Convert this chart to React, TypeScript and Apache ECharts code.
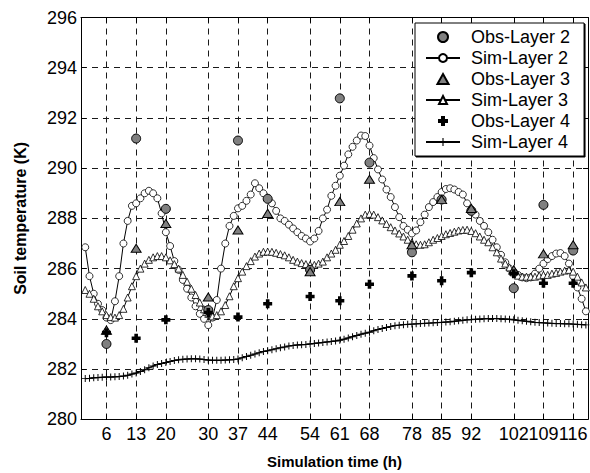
import { useEffect, useRef } from 'react';
import * as echarts from 'echarts';

const FONT = "'Liberation Sans', Arial, Helvetica, sans-serif";

// Observation times (h) – also used as the x-axis tick positions
const obsTimes = [6, 13, 20, 30, 37, 44, 54, 61, 68, 78, 85, 92, 102, 109, 116];

// Observed soil temperature (K)
const obsLayer2 = [283.0, 291.18, 288.38, 284.35, 291.1, 288.78, 285.95, 292.78, 290.22, 286.65, 288.75, 288.3, 285.22, 288.54, 286.72];
const obsLayer3 = [283.55, 286.81, 287.8, 284.87, 287.54, 288.2, 285.88, 288.67, 289.56, 286.95, 288.75, 288.4, 285.95, 286.59, 286.95];
const obsLayer4 = [283.45, 283.23, 283.96, 284.25, 284.07, 284.6, 284.89, 284.72, 285.38, 285.71, 285.52, 285.84, 285.8, 285.42, 285.42];

// Simulated soil temperature (K), hourly from h = 1
const simLayer2 = [
  286.85, 285.7, 285.0, 284.6, 284.35, 284.05, 283.95, 284.7, 285.7, 287.0,
  287.9, 288.5, 288.6, 288.8, 289.0, 289.1, 289.0, 288.8, 288.2, 287.45,
  286.9, 286.3, 285.95, 285.55, 285.2, 284.85, 284.5, 284.2, 284.0, 283.75,
  284.05, 284.75, 286.0, 287.0, 287.7, 288.1, 288.4, 288.5, 288.7, 288.95,
  289.4, 289.2, 289.0, 288.8, 288.6, 288.3, 288.0, 287.9, 287.75, 287.6,
  287.45, 287.3, 287.2, 287.08, 287.2, 287.5, 288.0, 288.35, 288.9, 289.3,
  289.7, 290.1, 290.55, 290.85, 291.1, 291.3, 291.28, 290.9, 290.4, 289.95,
  289.55, 289.15, 288.85, 288.45, 288.05, 287.7, 287.55, 287.4, 287.52, 287.85,
  288.15, 288.45, 288.65, 288.85, 289.05, 289.17, 289.2, 289.15, 289.05, 288.95,
  288.6, 288.35, 288.15, 287.9, 287.7, 287.45, 287.15, 286.85, 286.55, 286.25,
  286.0, 285.88, 285.75, 285.65, 285.62, 285.65, 285.8, 286.0, 286.2, 286.38,
  286.5, 286.6, 286.62, 286.5, 286.2, 285.7, 285.25, 284.8, 284.3,
];
const simLayer3 = [
  285.15, 285.0, 284.8, 284.5, 284.3, 284.15, 284.07, 284.05, 284.15, 284.4,
  284.85, 285.3, 285.7, 286.0, 286.2, 286.35, 286.45, 286.5, 286.5, 286.45,
  286.33, 286.18, 286.0, 285.75, 285.48, 285.2, 284.95, 284.65, 284.38, 284.2,
  284.1, 284.15, 284.3, 284.55, 284.9, 285.3, 285.62, 285.88, 286.1, 286.3,
  286.48, 286.6, 286.67, 286.68, 286.67, 286.63, 286.58, 286.53, 286.45, 286.35,
  286.28, 286.22, 286.18, 286.15, 286.15, 286.2, 286.28, 286.45, 286.6, 286.75,
  286.95, 287.1, 287.3, 287.55, 287.8, 288.0, 288.15, 288.18, 288.15, 288.05,
  287.92, 287.78, 287.65, 287.52, 287.4, 287.28, 287.15, 287.05, 286.97, 286.95,
  286.97, 287.05, 287.15, 287.22, 287.3, 287.37, 287.42, 287.47, 287.52, 287.54,
  287.55, 287.5, 287.41, 287.28, 287.15, 287.05, 286.85, 286.65, 286.4, 286.2,
  286.05, 285.85, 285.72, 285.68, 285.68, 285.68, 285.68, 285.72, 285.75, 285.75,
  285.8, 285.83, 285.88, 285.92, 285.95, 285.88, 285.68, 285.45, 285.25,
];
const simLayer4 = [
  281.62, 281.63, 281.65, 281.66, 281.67, 281.68, 281.68, 281.69, 281.7, 281.72,
  281.75, 281.8, 281.84, 281.9, 281.97, 282.05, 282.12, 282.18, 282.22, 282.26,
  282.3, 282.34, 282.37, 282.39, 282.4, 282.41, 282.41, 282.4, 282.38, 282.36,
  282.35, 282.35, 282.35, 282.36, 282.37, 282.38, 282.4, 282.45, 282.5, 282.55,
  282.6, 282.65, 282.7, 282.73, 282.77, 282.81, 282.85, 282.88, 282.92, 282.94,
  282.96, 282.97, 282.98, 283.0, 283.02, 283.04, 283.06, 283.08, 283.1, 283.12,
  283.15, 283.19, 283.24, 283.29, 283.34, 283.39, 283.43, 283.47, 283.53, 283.58,
  283.62, 283.66, 283.7, 283.73, 283.75, 283.77, 283.78, 283.79, 283.8, 283.81,
  283.82, 283.83, 283.84, 283.85, 283.86, 283.87, 283.88, 283.9, 283.92, 283.94,
  283.96, 283.97, 283.98, 283.99, 284.0, 284.01, 284.01, 284.01, 284.0, 283.99,
  283.98, 283.96, 283.94, 283.92, 283.9, 283.88, 283.86, 283.85, 283.84, 283.83,
  283.82, 283.81, 283.81, 283.8, 283.8, 283.79, 283.78, 283.77, 283.76,
];

const SIM_START_HOUR = 1;

const THICK_PLUS = 'path://M3,0h4v3h3v4h-3v3h-4v-3h-3v-4h3z';
const THIN_PLUS = 'path://M4.3,0h1.4v4.3h4.3v1.4h-4.3v4.3h-1.4v-4.3h-4.3v-1.4h4.3z';
const TRIANGLE = 'path://M5,0L10,9L0,9Z';

const GRAY = '#808080';

const obsPairs = (vals: number[]) => vals.map((v, i) => [obsTimes[i], v]);
const simPairs = (vals: number[]) => vals.map((v, i) => [SIM_START_HOUR + i, v]);

function buildOption(): echarts.EChartsCoreOption {
  const gridLine = { show: true, lineStyle: { color: '#1a1a1a', type: [6, 5], width: 1 } };
  const axisText = { color: '#000', fontFamily: FONT, fontSize: 18 };
  const nameText = { color: '#000', fontFamily: FONT, fontWeight: 'bold' as const };

  return {
    animation: false,
    backgroundColor: '#fff',
    grid: { left: 81, right: 2, top: 17.5, bottom: 53.7, outerBoundsMode: 'none' },
    legend: {
      orient: 'vertical',
      left: 415,
      top: 23,
      padding: [5, 14, 5, 10],
      itemWidth: 34,
      itemHeight: 10,
      itemGap: 3,
      symbolKeepAspect: true,
      backgroundColor: '#fff',
      borderColor: '#000',
      borderWidth: 1,
      shadowColor: '#000',
      shadowBlur: 0,
      shadowOffsetX: 1,
      shadowOffsetY: 1,
      textStyle: { color: '#000', fontFamily: FONT, fontSize: 18, padding: [0, 0, 0, 6] },
      data: [
        'Obs-Layer 2',
        'Sim-Layer 2',
        { name: 'Obs-Layer 3', icon: TRIANGLE },
        'Sim-Layer 3',
        'Obs-Layer 4',
        'Sim-Layer 4',
      ],
    },
    xAxis: [
      {
        type: 'value',
        min: 0,
        max: 119.5,
        name: 'Simulation time (h)',
        nameLocation: 'middle',
        nameGap: 35,
        nameTextStyle: { ...nameText, fontSize: 15 },
        axisLine: { show: true, onZero: false, lineStyle: { color: '#000', width: 1 } },
        axisTick: { show: true, inside: true, length: 5, customValues: obsTimes, lineStyle: { color: '#000' } },
        axisLabel: { ...axisText, margin: 6, customValues: obsTimes, hideOverlap: false, showMinLabel: true, showMaxLabel: true },
        splitLine: gridLine,
      },
      {
        type: 'value',
        position: 'top',
        min: 0,
        max: 119.5,
        axisLine: { show: true, onZero: false, lineStyle: { color: '#000', width: 1 } },
        axisTick: { show: true, inside: true, length: 5, customValues: obsTimes, lineStyle: { color: '#000' } },
        axisLabel: { show: false },
        splitLine: { show: false },
      },
    ],
    yAxis: [
      {
        type: 'value',
        min: 280,
        max: 296,
        interval: 2,
        name: 'Soil temperature (K)',
        nameLocation: 'middle',
        nameGap: 53,
        nameTextStyle: { ...nameText, fontSize: 16 },
        axisLine: { show: true, onZero: false, lineStyle: { color: '#000', width: 1 } },
        axisTick: { show: true, inside: true, length: 5, lineStyle: { color: '#000' } },
        axisLabel: { ...axisText, margin: 4 },
        splitLine: gridLine,
      },
      {
        type: 'value',
        position: 'right',
        min: 280,
        max: 296,
        interval: 2,
        axisLine: { show: true, onZero: false, lineStyle: { color: '#000', width: 1 } },
        axisTick: { show: true, inside: true, length: 5, lineStyle: { color: '#000' } },
        axisLabel: { show: false },
        splitLine: { show: false },
      },
    ],
    series: [
      {
        name: 'Sim-Layer 2',
        type: 'line',
        data: simPairs(simLayer2),
        showAllSymbol: true,
        symbol: 'circle',
        symbolSize: 7,
        lineStyle: { color: '#000', width: 1 },
        itemStyle: { color: '#fff', borderColor: '#000', borderWidth: 0.8 },
        z: 3,
      },
      {
        name: 'Sim-Layer 3',
        type: 'line',
        data: simPairs(simLayer3),
        showAllSymbol: true,
        symbol: 'triangle',
        symbolSize: 7,
        lineStyle: { color: '#000', width: 1 },
        itemStyle: { color: '#fff', borderColor: '#000', borderWidth: 0.8 },
        z: 3,
      },
      {
        name: 'Sim-Layer 4',
        type: 'line',
        data: simPairs(simLayer4),
        showAllSymbol: true,
        symbol: THIN_PLUS,
        symbolSize: 7,
        lineStyle: { color: '#000', width: 1.2 },
        itemStyle: { color: '#000', borderWidth: 0 },
        z: 3,
      },
      {
        name: 'Obs-Layer 2',
        type: 'scatter',
        data: obsPairs(obsLayer2),
        symbol: 'circle',
        symbolSize: 9,
        itemStyle: { color: GRAY, borderColor: '#000', borderWidth: 1, opacity: 1 },
        z: 5,
      },
      {
        name: 'Obs-Layer 3',
        type: 'scatter',
        data: obsPairs(obsLayer3),
        symbol: TRIANGLE,
        symbolSize: [10, 9],
        symbolKeepAspect: true,
        itemStyle: { color: GRAY, borderColor: '#000', borderWidth: 1, opacity: 1 },
        z: 5,
      },
      {
        name: 'Obs-Layer 4',
        type: 'scatter',
        data: obsPairs(obsLayer4),
        symbol: THICK_PLUS,
        symbolSize: 9,
        symbolKeepAspect: true,
        itemStyle: { color: '#000', borderWidth: 0, opacity: 1 },
        z: 6,
      },
    ],
  };
}

export default function App() {
  const ref = useRef<HTMLDivElement>(null);

  useEffect(() => {
    if (!ref.current) return;
    const chart = echarts.init(ref.current, null, { renderer: 'svg' });
    chart.setOption(buildOption());
    return () => chart.dispose();
  }, []);

  return (
    <div
      ref={ref}
      style={{ position: 'fixed', left: 0, top: 0, width: 590, height: 473, background: '#fff' }}
    />
  );
}
